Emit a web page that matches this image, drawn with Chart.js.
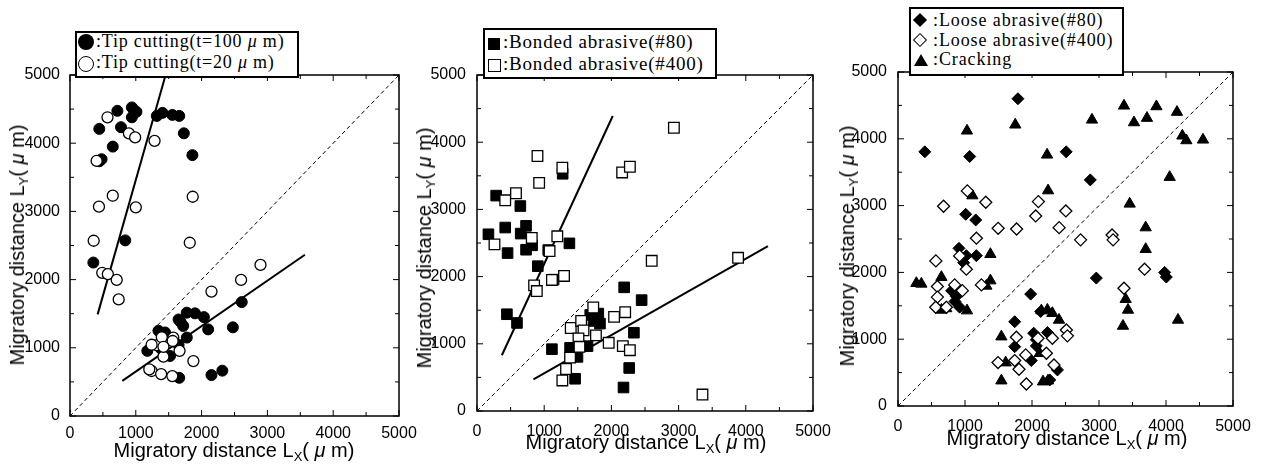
<!DOCTYPE html>
<html>
<head>
<meta charset="utf-8">
<script src="https://cdn.jsdelivr.net/npm/chart.js@4.4.1/dist/chart.umd.min.js"></script>
<style>
  body { margin: 0; background: #fff; width: 1261px; height: 464px; position: relative; overflow: hidden;
         font-family: "Liberation Sans", Arial, sans-serif; color: #000; }
  .panel { position: absolute; top: 0; height: 464px; }
  .panel canvas { position: absolute; left: 0; top: 0; }
  .xt, .yt { position: absolute; font-size: 20px; line-height: 22px; white-space: nowrap; }
  .xt { transform: translateX(-50%); }
  .yt { transform: translate(-50%, -50%) rotate(-90deg); }
  .xt sub, .yt sub { font-size: 13px; vertical-align: -4px; line-height: 0; }
  .legend { position: absolute; box-sizing: border-box; border: 2px solid #000; background: #fff;
            font-family: "Liberation Serif", "Times New Roman", serif; font-size: 18px; }
  .legend .row { position: absolute; height: 21px; line-height: 21px; white-space: nowrap; }
  .mk { position: absolute; box-sizing: border-box; }
  .fc { background: #000; border-radius: 50%; }
  .oc { background: #fff; border: 1.3px solid #000; border-radius: 50%; }
  .fs { background: #000; }
  .os { background: #fff; border: 1.3px solid #000; }
  .fd { background: #000; transform: rotate(45deg); }
  .od { background: #fff; border: 1.3px solid #000; transform: rotate(45deg); }
  .tr { width: 0; height: 0; border-left: 7px solid transparent; border-right: 7px solid transparent; border-bottom: 12px solid #000; }
</style>
</head>
<body>

<div class="panel" style="left:0;width:420px"><canvas id="c1" width="420" height="464"></canvas></div>
<div class="panel" style="left:420px;width:420px"><canvas id="c2" width="420" height="464"></canvas></div>
<div class="panel" style="left:840px;width:421px"><canvas id="c3" width="421" height="464"></canvas></div>

<!-- axis titles -->
<div class="xt" style="left:234px;top:439px">Migratory distance L<sub>X</sub>( <i>μ</i> m)</div>
<div class="yt" style="left:17px;top:245px">Migratory distance L<sub>Y</sub>( <i>μ</i> m)</div>
<div class="xt" style="left:646px;top:431px">Migratory distance L<sub>X</sub>( <i>μ</i> m)</div>
<div class="yt" style="left:424px;top:248px">Migratory distance L<sub>Y</sub>( <i>μ</i> m)</div>
<div class="xt" style="left:1067px;top:427px">Migratory distance L<sub>X</sub>( <i>μ</i> m)</div>
<div class="yt" style="left:847px;top:246px">Migratory distance L<sub>Y</sub>( <i>μ</i> m)</div>

<!-- legends -->
<div class="legend" style="left:75px;top:31px;width:224px;height:47px">
  <span class="mk fc" style="left:1px;top:1px;width:16px;height:16px"></span>
  <div class="row" style="left:19px;top:-2px;letter-spacing:0.8px">:Tip cutting(t=100 <i>μ</i> m)</div>
  <span class="mk oc" style="left:1px;top:23px;width:16px;height:16px"></span>
  <div class="row" style="left:19px;top:19px;letter-spacing:0.8px">:Tip cutting(t=20 <i>μ</i> m)</div>
</div>
<div class="legend" style="left:483px;top:28px;width:234px;height:51px;font-size:19px">
  <span class="mk fs" style="left:3px;top:8px;width:12px;height:12px"></span>
  <div class="row" style="left:18px;top:1px;letter-spacing:0.8px">:Bonded abrasive(#80)</div>
  <span class="mk os" style="left:3px;top:29px;width:13px;height:13px"></span>
  <div class="row" style="left:18px;top:23px;letter-spacing:0.8px">:Bonded abrasive(#400)</div>
</div>
<div class="legend" style="left:909px;top:7px;width:215px;height:69px">
  <span class="mk fd" style="left:4px;top:6px;width:10px;height:10px"></span>
  <div class="row" style="left:22px;top:1px;letter-spacing:0.9px">:Loose abrasive(#80)</div>
  <span class="mk od" style="left:4px;top:26px;width:10px;height:10px"></span>
  <div class="row" style="left:22px;top:21px;letter-spacing:0.9px">:Loose abrasive(#400)</div>
  <span class="mk tr" style="left:3px;top:45px"></span>
  <div class="row" style="left:22px;top:40px;letter-spacing:0.9px">:Cracking</div>
</div>

<script>
// axis ticks (both axes, all panels)
const tickValues = [0, 1000, 2000, 3000, 4000, 5000];
const minorStep = 500;

// panel 1 : tip cutting
const tip100 = [
  [720, 4475], [940, 4525], [970, 4490], [1010, 4460], [940, 4380], [445, 4210], [775, 4235],
  [650, 3950], [480, 3765], [445, 3735], [840, 2575], [355, 2250], [1320, 4400], [1405, 4445],
  [1555, 4415], [1660, 4400], [1730, 4145], [1860, 3825],
  [1175, 955], [1345, 1250], [1445, 1225], [1380, 990], [1520, 880], [1650, 1040], [1660, 560],
  [1650, 1415], [1775, 1515], [1720, 1320], [1680, 1380], [1900, 1505], [2035, 1450], [1775, 1150],
  [2100, 1270], [2150, 600], [2315, 665], [2475, 1300], [2610, 1670]
];
const tip20 = [
  [570, 4380], [895, 4145], [990, 4085], [1285, 4035], [405, 3740], [650, 3230], [440, 3070],
  [1000, 3060], [1865, 3215], [360, 2570], [1820, 2540], [490, 2100], [575, 2080], [710, 1995],
  [740, 1710], [2150, 1825], [2600, 1995], [2895, 2215],
  [1240, 660], [1205, 685], [1385, 615], [1555, 585], [1875, 805], [1320, 1040], [1395, 1155],
  [1570, 1150], [1560, 1100], [1420, 870], [1665, 955], [1420, 1015], [1240, 1045]
];
const tipFitA = [[420, 1490], [1453, 5000]];
const tipFitB = [[795, 515], [3570, 2365]];

// panel 2 : bonded abrasive
const bonded80 = [
  [285, 3205], [645, 3050], [170, 2630], [420, 2730], [650, 2640], [730, 2755], [730, 2400],
  [820, 2465], [455, 2350], [905, 2155], [1375, 2495], [1275, 3530], [1060, 2395], [1140, 1955],
  [445, 1440], [595, 1310], [1115, 920], [1385, 940], [1495, 805], [1460, 480], [1645, 965],
  [1685, 1430], [1805, 1450], [1735, 1340], [1830, 1300], [2190, 1840], [2450, 1650],
  [2335, 1165], [2265, 640], [2180, 350]
];
const bonded400 = [
  [900, 3795], [925, 3395], [1270, 3620], [2160, 3550], [2275, 3635], [2930, 4215], [420, 3135],
  [580, 3240], [260, 2480], [815, 2575], [1195, 2600], [1080, 2380], [1115, 1950], [1295, 2010],
  [850, 1870], [890, 1785], [2600, 2235], [3885, 2280],
  [1730, 1540], [2040, 1400], [2205, 1470], [1395, 1235], [1550, 1340], [1585, 1200], [1510, 1080],
  [1770, 1125], [1960, 1015], [2170, 965], [2275, 905], [1385, 795], [1325, 625], [1270, 455],
  [3355, 245], [1525, 955]
];
const bondedFitA = [[370, 830], [2020, 4390]];
const bondedFitB = [[840, 470], [4330, 2455]];

// panel 3 : loose abrasive and cracking
const loose80 = [
  [1790, 4600], [400, 3805], [1070, 3735], [2510, 3805], [2870, 3385], [1010, 2870], [1160, 2785],
  [910, 2360], [1020, 2250], [1170, 2250], [980, 2145], [800, 1725], [870, 1640], [850, 1565],
  [920, 1480], [2960, 1915], [3980, 2000], [4005, 1930], [1980, 1675], [1742, 1262], [1742, 888],
  [2025, 1090], [2065, 900], [2230, 1100], [2130, 1415], [2065, 990], [1990, 680], [2380, 540],
  [2265, 390]
];
const loose400 = [
  [680, 2990], [1035, 3220], [1310, 3050], [2095, 3060], [2055, 2845], [2505, 2920], [1495, 2660],
  [1770, 2650], [2405, 2670], [2725, 2487], [3195, 2560], [3210, 2487], [1170, 2512], [565, 2172],
  [920, 2247], [1020, 2048], [3680, 2048], [3373, 1763], [588, 1790], [588, 1630], [563, 1478],
  [722, 1478], [846, 1813], [960, 1727], [1245, 1813], [1493, 650], [1742, 680], [1767, 1030],
  [1806, 550], [1906, 765], [1916, 330], [2090, 1014], [2215, 790], [2304, 1014], [2328, 614],
  [2513, 1138], [2528, 1050]
];
const cracking = [
  [1750, 4210], [1030, 4120], [2225, 3760], [2240, 3225], [2895, 4284], [3373, 4494], [3522, 4244],
  [3716, 4310], [3857, 4484], [4164, 4400], [4244, 4045], [4304, 3975], [4552, 3985], [4055, 3426],
  [3458, 3026], [3697, 2671], [3697, 2347], [3398, 1598], [3433, 1438], [3358, 1198], [4179, 1288],
  [1110, 3150], [1379, 2272], [1379, 1877], [1319, 1798], [274, 1838], [349, 1828], [648, 1928],
  [648, 1438], [720, 1460], [1030, 1428], [2140, 1428], [2230, 1438], [2304, 1389], [2403, 1288],
  [1543, 1038], [1607, 649], [1543, 379], [2115, 789], [2164, 364], [2239, 379]
];

const diagonal = [[0, 0], [5000, 5000]];

const pts = (arr) => arr.map(([x, y]) => ({ x, y }));

const filled = (data, style, r) => ({
  data: pts(data), pointStyle: style, pointRadius: r, pointHoverRadius: r,
  backgroundColor: "#000", borderColor: "#000", borderWidth: 1, order: 2,
});
const hollow = (data, style, r) => ({
  data: pts(data), pointStyle: style, pointRadius: r, pointHoverRadius: r,
  backgroundColor: "#fff", borderColor: "#000", borderWidth: 1.3, order: 1,
});
const fitLine = (data) => ({
  data: pts(data), showLine: true, pointRadius: 0, borderColor: "#000",
  borderWidth: 2, order: 5,
});
const dashLine = () => ({
  data: pts(diagonal), showLine: true, pointRadius: 0, borderColor: "#000",
  borderWidth: 1, borderDash: [4, 3], order: 6,
});

// frame box with inward ticks on all four sides
const frameTicks = {
  id: "frameTicks",
  afterDraw(chart) {
    const { ctx, chartArea: a, scales } = chart;
    const x = scales.x, y = scales.y;
    ctx.save();
    ctx.strokeStyle = "#000";
    ctx.lineWidth = 1;
    ctx.beginPath();
    for (let v = 0; v <= 5000; v += minorStep) {
      const len = v % 1000 === 0 ? 6 : 4;
      const px = x.getPixelForValue(v);
      const py = y.getPixelForValue(v);
      ctx.moveTo(px, a.bottom); ctx.lineTo(px, a.bottom - len);
      ctx.moveTo(px, a.top); ctx.lineTo(px, a.top + len);
      ctx.moveTo(a.left, py); ctx.lineTo(a.left + len, py);
      ctx.moveTo(a.right, py); ctx.lineTo(a.right - len, py);
    }
    ctx.stroke();
    ctx.lineWidth = 1.5;
    ctx.strokeRect(a.left, a.top, a.right - a.left, a.bottom - a.top);
    ctx.restore();
  },
};

const makeChart = (id, datasets, box) => {
  const tickFont = { family: "'Liberation Sans', Arial, sans-serif", size: 16 };
  return new Chart(document.getElementById(id), {
    type: "scatter",
    data: { datasets },
    options: {
      responsive: false,
      animation: false,
      layout: { padding: { top: box.top, right: box.right, left: 0, bottom: 0 } },
      plugins: { legend: { display: false }, tooltip: { enabled: false } },
      scales: {
        x: {
          type: "linear", min: 0, max: 5000,
          afterBuildTicks: (s) => { s.ticks = tickValues.map((v) => ({ value: v })); },
          ticks: { font: tickFont, color: "#000", padding: box.xPad, maxRotation: 0, autoSkip: false,
                   callback: (v) => String(v) },
          grid: { display: false },
          border: { display: false },
          afterFit: (s) => { s.height = box.xHeight; },
        },
        y: {
          type: "linear", min: 0, max: 5000,
          afterBuildTicks: (s) => { s.ticks = tickValues.map((v) => ({ value: v })); },
          ticks: { font: tickFont, color: "#000", padding: box.yPad, autoSkip: false,
                   callback: (v) => String(v) },
          grid: { display: false },
          border: { display: false },
          afterFit: (s) => { s.width = box.yWidth; },
        },
      },
    },
    plugins: [frameTicks],
  });
};

makeChart("c1", [
  hollow(tip20, "circle", 5.5),
  filled(tip100, "circle", 5.5),
  fitLine(tipFitA),
  fitLine(tipFitB),
  dashLine(),
], { top: 75, right: 21, xHeight: 48, yWidth: 70, xPad: 0, yPad: 2 });

makeChart("c2", [
  hollow(bonded400, "rect", 7.5),
  filled(bonded80, "rect", 7.5),
  fitLine(bondedFitA),
  fitLine(bondedFitB),
  dashLine(),
], { top: 75, right: 27, xHeight: 53, yWidth: 57, xPad: 2.5, yPad: 3 });

makeChart("c3", [
  hollow(loose400, "rectRot", 6),
  filled(loose80, "rectRot", 6),
  filled(cracking, "triangle", 6.5),
  dashLine(),
], { top: 72, right: 28, xHeight: 58, yWidth: 58, xPad: 2.5, yPad: 3 });
</script>
</body>
</html>
